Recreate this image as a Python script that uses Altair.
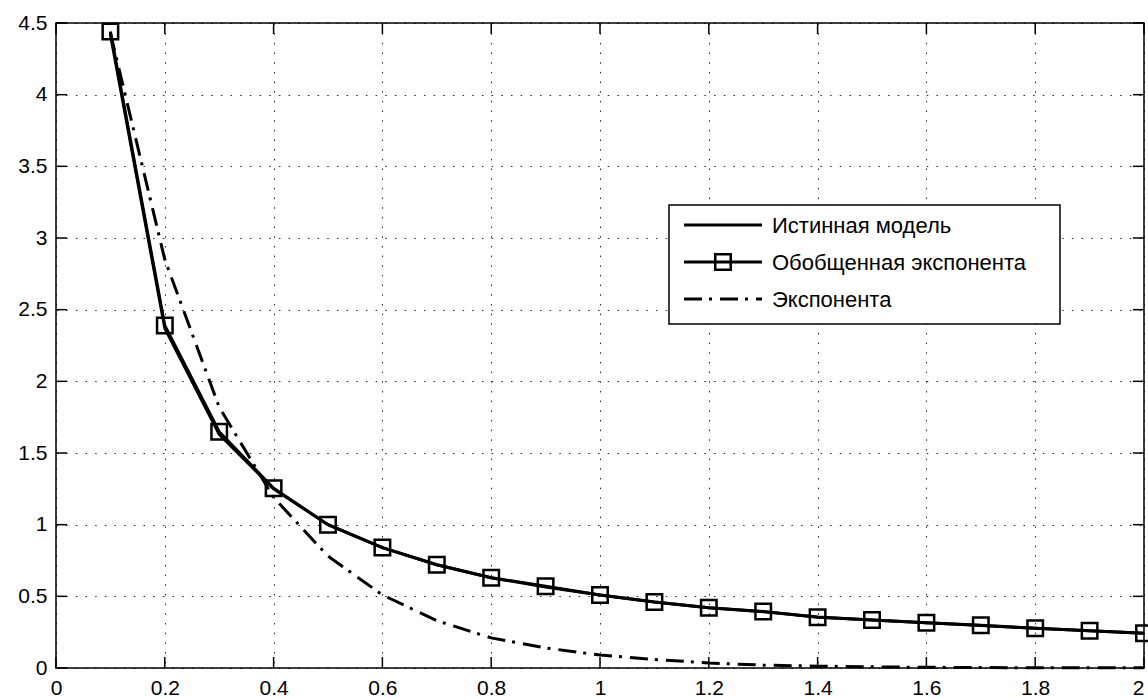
import altair as alt
import pandas as pd

# ---- data ----
x_vals = [0.1, 0.2, 0.3, 0.4, 0.5, 0.6, 0.7, 0.8, 0.9, 1.0,
          1.1, 1.2, 1.3, 1.4, 1.5, 1.6, 1.7, 1.8, 1.9, 2.0]
true_model = [4.42, 2.37, 1.63, 1.25, 1.0, 0.84, 0.72, 0.63, 0.565, 0.51,
              0.46, 0.42, 0.392, 0.356, 0.335, 0.315, 0.297, 0.277, 0.26, 0.243]
gen_exp = [4.44, 2.39, 1.648, 1.254, 1.0, 0.84, 0.72, 0.63, 0.57, 0.51,
           0.46, 0.42, 0.395, 0.354, 0.335, 0.315, 0.298, 0.277, 0.26, 0.242]
expo = [4.43, 2.85, 1.82, 1.19, 0.78, 0.51, 0.33, 0.21, 0.14, 0.09,
        0.06, 0.035, 0.02, 0.013, 0.008, 0.005, 0.003, 0.002, 0.001, 0.001]
series_names = ["Истинная модель", "Обобщенная экспонента", "Экспонента"]
x_ticks = [0, 0.2, 0.4, 0.6, 0.8, 1, 1.2, 1.4, 1.6, 1.8, 2]
y_ticks = [0, 0.5, 1, 1.5, 2, 2.5, 3, 3.5, 4, 4.5]

W, H = 1088, 645
FONT = "Liberation Sans"
FS = 21

df_true = pd.DataFrame({"x": x_vals, "y": true_model})
df_gen = pd.DataFrame({"x": x_vals, "y": gen_exp})
df_exp = pd.DataFrame({"x": x_vals, "y": expo})
df_xt = pd.DataFrame({"x": x_ticks})
df_yt = pd.DataFrame({"y": y_ticks})

xscale = alt.Scale(domain=[0, 2], nice=False, zero=False)
yscale = alt.Scale(domain=[0, 4.5], nice=False, zero=False)
grid_dash = [1.5, 8.17]
xaxis = alt.Axis(values=x_ticks, title=None, grid=True, gridDash=grid_dash,
                 gridColor="#000", gridWidth=1, gridOpacity=0.85,
                 ticks=False, domain=False, labelPadding=9,
                 labelFont=FONT, labelFontSize=FS, labelColor="#000",
                 labelAlign={"condition": {"test": "datum.value == 2", "value": "right"},
                             "value": "center"},
                 labelExpr="datum.value + ''", labelFlush=False, labelOverlap=False)
yaxis = alt.Axis(values=y_ticks, title=None, grid=True, gridDash=grid_dash,
                 gridColor="#000", gridWidth=1, gridOpacity=0.85,
                 ticks=False, domain=False, labelPadding=9,
                 labelFont=FONT, labelFontSize=FS, labelColor="#000",
                 labelExpr="datum.value + ''", labelFlush=False, labelOverlap=False)

X = alt.X("x:Q", scale=xscale, axis=xaxis)
Y = alt.Y("y:Q", scale=yscale, axis=yaxis)

LW = 3
exp_line = alt.Chart(df_exp).mark_line(color="#000", strokeWidth=LW,
                                       strokeDash=[18, 7, 3, 8]).encode(x=X, y=Y)
true_line = alt.Chart(df_true).mark_line(color="#000", strokeWidth=LW).encode(x=X, y=Y)
gen_line = alt.Chart(df_gen).mark_line(color="#000", strokeWidth=LW).encode(x=X, y=Y)
gen_pts = alt.Chart(df_gen).mark_point(shape="square", filled=False, size=240,
                                       color="#000", strokeWidth=2.5, opacity=1).encode(x=X, y=Y)

TL = 11
tick_b = alt.Chart(df_xt).mark_rule(color="#000", strokeWidth=1.5).encode(
    x=X, y=alt.value(H), y2=alt.value(H - TL))
tick_t = alt.Chart(df_xt).mark_rule(color="#000", strokeWidth=1.5).encode(
    x=X, y=alt.value(0), y2=alt.value(TL))
tick_l = alt.Chart(df_yt).mark_rule(color="#000", strokeWidth=1.5).encode(
    y=Y, x=alt.value(0), x2=alt.value(TL))
tick_r = alt.Chart(df_yt).mark_rule(color="#000", strokeWidth=1.5).encode(
    y=Y, x=alt.value(W), x2=alt.value(W - TL))

# ---- manual legend (pixel positions inside the plot area) ----
LX0, LX1, LY0, LY1 = 613, 1004, 182, 301
rows_y = [202, 239, 276]
SX0, SX1, TX = 628, 706, 716
one = pd.DataFrame({"d": [0]})

leg_box = alt.Chart(one).mark_rect(fill="#fff", stroke="#000", strokeWidth=1.5).encode(
    x=alt.value(LX0), x2=alt.value(LX1), y=alt.value(LY0), y2=alt.value(LY1))
leg_l1 = alt.Chart(one).mark_rule(color="#000", strokeWidth=LW).encode(
    x=alt.value(SX0), x2=alt.value(SX1), y=alt.value(rows_y[0]))
leg_l2 = alt.Chart(one).mark_rule(color="#000", strokeWidth=LW).encode(
    x=alt.value(SX0), x2=alt.value(SX1), y=alt.value(rows_y[1]))
leg_p2 = alt.Chart(one).mark_point(shape="square", filled=False, size=240, color="#000",
                                   strokeWidth=2.5, opacity=1).encode(
    x=alt.value((SX0 + SX1) / 2), y=alt.value(rows_y[1]))
leg_l3 = alt.Chart(one).mark_rule(color="#000", strokeWidth=LW, strokeDash=[18, 7, 3, 8]).encode(
    x=alt.value(SX0), x2=alt.value(SX1), y=alt.value(rows_y[2]))

leg_texts = []
for name, yy in zip(series_names, rows_y):
    leg_texts.append(
        alt.Chart(pd.DataFrame({"t": [name]})).mark_text(
            align="left", baseline="middle", font=FONT, fontSize=22, color="#000").encode(
            text="t:N", x=alt.value(TX), y=alt.value(yy + 1)))

chart = alt.layer(
    exp_line, true_line, gen_line, gen_pts,
    tick_b, tick_t, tick_l, tick_r,
    leg_box, leg_l1, leg_l2, leg_p2, leg_l3, *leg_texts
).properties(
    width=W, height=H,
    padding={"left": 56, "top": 23, "right": 4, "bottom": 32},
    autosize=alt.AutoSizeParams(type="none"),
    background="#fff",
).configure_view(
    stroke="#000", strokeWidth=1.5
)

chart.save("out.html", embed_options={"renderer": "svg", "actions": False})
